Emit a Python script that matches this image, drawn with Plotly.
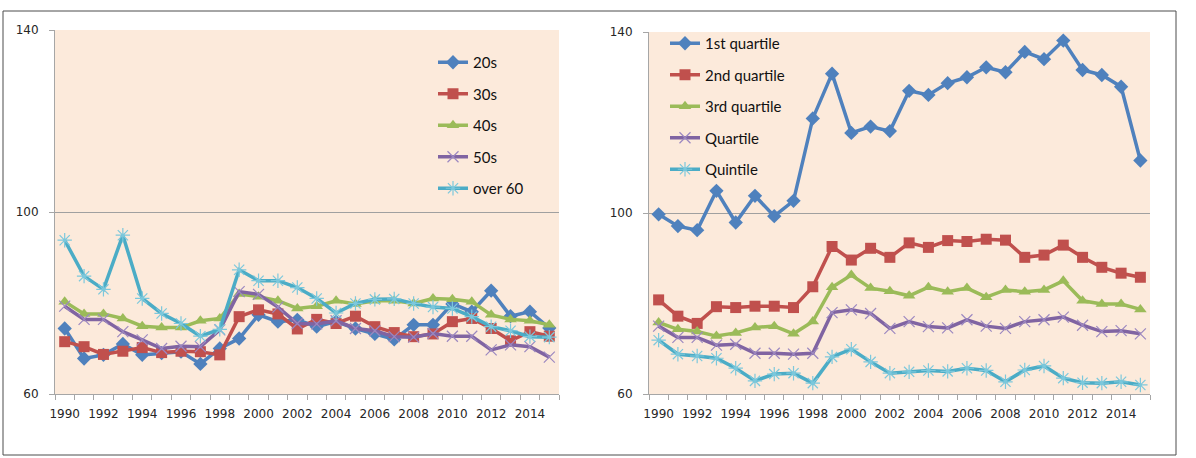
import plotly.graph_objects as go

# ---------------- data ----------------
years = list(range(1990, 2016))
tick_years = list(range(1990, 2016, 2))
y_ticks = [60, 100, 140]

age_names = ["20s", "30s", "40s", "50s", "over 60"]
age_20s = [74.4, 67.8, 68.6, 71.0, 68.6, 69.0, 69.3, 66.6, 70.0, 72.2, 77.4, 75.9, 76.3,
           74.8, 75.9, 74.4, 73.2, 72.0, 75.2, 75.2, 79.8, 78.1, 82.7, 77.1, 78.1, 74.5]
age_30s = [71.5, 70.4, 68.7, 69.4, 70.2, 69.1, 69.4, 69.3, 68.6, 77.0, 78.5, 77.6, 74.3,
           76.4, 75.5, 77.1, 74.8, 73.5, 72.6, 73.2, 75.9, 76.6, 74.4, 71.7, 73.7, 72.7]
age_40s = [80.3, 77.6, 77.6, 76.6, 74.9, 74.6, 74.6, 76.1, 76.6, 82.0, 81.4, 80.5, 78.8,
           79.3, 80.5, 79.8, 80.5, 80.5, 79.9, 81.0, 80.8, 80.3, 77.4, 76.4, 76.1, 75.2]
age_50s = [79.3, 76.4, 76.4, 73.7, 71.9, 70.0, 70.5, 70.4, 74.1, 82.5, 81.9, 79.1, 75.5,
           75.4, 76.1, 74.4, 73.9, 72.6, 72.5, 73.3, 72.7, 72.7, 69.7, 70.8, 70.4, 68.1]
age_over60 = [93.8, 85.9, 83.0, 94.9, 81.0, 77.7, 75.5, 72.7, 74.2, 87.3, 84.9, 84.9, 83.4,
              81.0, 77.8, 79.9, 80.8, 80.9, 79.9, 79.1, 78.8, 77.0, 74.8, 73.9, 72.6, 72.5]

q_names = ["1st quartile", "2nd quartile", "3rd quartile", "Quartile", "Quintile"]
q_1st = [99.7, 97.1, 96.2, 104.9, 97.9, 103.8, 99.3, 102.7, 120.9, 130.8, 117.7, 119.1, 118.1,
         127.0, 126.1, 128.7, 130.0, 132.2, 131.1, 135.6, 134.0, 138.1, 131.6, 130.5, 127.9, 111.6]
q_2nd = [80.8, 77.2, 75.6, 79.3, 79.1, 79.4, 79.4, 79.1, 83.7, 92.6, 89.6, 92.2, 90.2,
         93.4, 92.4, 93.9, 93.7, 94.2, 94.0, 90.2, 90.7, 92.9, 90.2, 88.0, 86.7, 85.8]
q_3rd = [75.8, 74.3, 73.8, 72.8, 73.5, 74.7, 75.0, 73.3, 76.0, 83.6, 86.3, 83.4, 82.7,
         81.7, 83.6, 82.6, 83.4, 81.4, 83.0, 82.6, 83.0, 85.0, 80.6, 79.9, 79.9, 78.7]
q_quart = [75.0, 72.5, 72.5, 70.8, 71.0, 69.0, 69.0, 68.8, 69.0, 78.0, 78.6, 77.8, 74.5,
           76.0, 74.9, 74.6, 76.4, 75.0, 74.5, 76.0, 76.4, 77.0, 75.2, 73.8, 74.0, 73.3]
q_quint = [71.9, 68.8, 68.4, 67.9, 65.7, 62.9, 64.4, 64.6, 62.4, 68.2, 69.9, 67.1, 64.6,
           64.9, 65.2, 65.0, 65.7, 65.2, 62.7, 65.3, 66.2, 63.5, 62.5, 62.4, 62.7, 62.0]

left_series = [age_20s, age_30s, age_40s, age_50s, age_over60]
right_series = [q_1st, q_2nd, q_3rd, q_quart, q_quint]

# ---------------- styles ----------------
colors = ["#4F81BD", "#C0504D", "#9BBB59", "#8064A2", "#4BACC6"]
marker_colors = ["#4F81BD", "#C0504D", "#9BBB59", "#9C88C0", "#7CC8DC"]
symbols = ["diamond", "square", "triangle-up", "x-thin-open", "asterisk-open"]
sizes = [11, 11, 11, 11, 12]
W, H = 1196, 458
PLOT_BG = "#FCEADB"
AXIS_COL = "#A6A6A6"
TICKFONT = dict(family="DejaVu Sans", size=12, color="#262626")
LEGFONT = dict(family="Lato", size=15, color="#111")


def px_x(p):
    return p / W


def px_y(p):
    return (H - p) / H


fig = go.Figure()


def add_series(names, series, xa, ya, legend):
    for i, (nm, vals) in enumerate(zip(names, series)):
        open_sym = symbols[i].endswith("open")
        fig.add_trace(go.Scatter(
            x=years, y=vals, name=nm, mode="lines+markers",
            xaxis=xa, yaxis=ya, legend=legend, legendgroup=legend + str(i),
            line=dict(color=colors[i], width=3.5),
            marker=dict(symbol=symbols[i], size=sizes[i],
                        color=marker_colors[i],
                        line=dict(color=marker_colors[i], width=1.2 if open_sym else 0)),
        ))


add_series(age_names, left_series, "x", "y", "legend")
add_series(q_names, right_series, "x2", "y2", "legend2")

xcommon = dict(
    range=[1989.5, 2015.5], tickvals=tick_years, ticktext=[str(t) for t in tick_years],
    ticks="outside", ticklen=9, tickcolor="rgba(0,0,0,0)", automargin=False,
    showline=True, linecolor=AXIS_COL, linewidth=1, showgrid=False, zeroline=False,
    tickfont=TICKFONT,
    minor=dict(ticks="outside", tick0=1989.5, dtick=1, ticklen=5,
               tickcolor=AXIS_COL, showgrid=False),
)
ycommon = dict(
    range=[60, 140], tickvals=y_ticks, ticks="outside", ticklen=5, tickcolor=AXIS_COL,
    showline=True, linecolor=AXIS_COL, linewidth=1, showgrid=True, gridcolor="#A0A0A0",
    gridwidth=1, zeroline=False, tickfont=TICKFONT, ticklabelstandoff=8, automargin=False,
)

fig.update_layout(
    template="none",
    width=W, height=H, margin=dict(l=0, r=0, t=0, b=0, pad=0, autoexpand=False),
    paper_bgcolor="white", plot_bgcolor=PLOT_BG,
    xaxis=dict(domain=[px_x(55), px_x(559)], anchor="y", **xcommon),
    yaxis=dict(domain=[px_y(394), px_y(30)], anchor="x", **ycommon),
    xaxis2=dict(domain=[px_x(649), px_x(1150)], anchor="y2", **xcommon),
    yaxis2=dict(domain=[px_y(394), px_y(32)], anchor="x2", **ycommon),
    legend=dict(x=px_x(433), y=px_y(46), xanchor="left", yanchor="top",
                bgcolor="rgba(0,0,0,0)", font=LEGFONT,
                tracegroupgap=9, traceorder="grouped"),
    legend2=dict(x=px_x(665), y=px_y(27), xanchor="left", yanchor="top",
                 bgcolor="rgba(0,0,0,0)", font=LEGFONT,
                 tracegroupgap=9, traceorder="grouped"),
    showlegend=True,
    shapes=[dict(type="rect", xref="paper", yref="paper",
                 x0=px_x(3), x1=px_x(1176), y0=px_y(455), y1=px_y(11),
                 line=dict(color="#4D4D4D", width=1), fillcolor="rgba(0,0,0,0)",
                 layer="below")],
)

fig.write_html("out.html", config={"displayModeBar": False},
               post_script="document.body.style.margin='0';document.body.style.overflow='hidden';")
